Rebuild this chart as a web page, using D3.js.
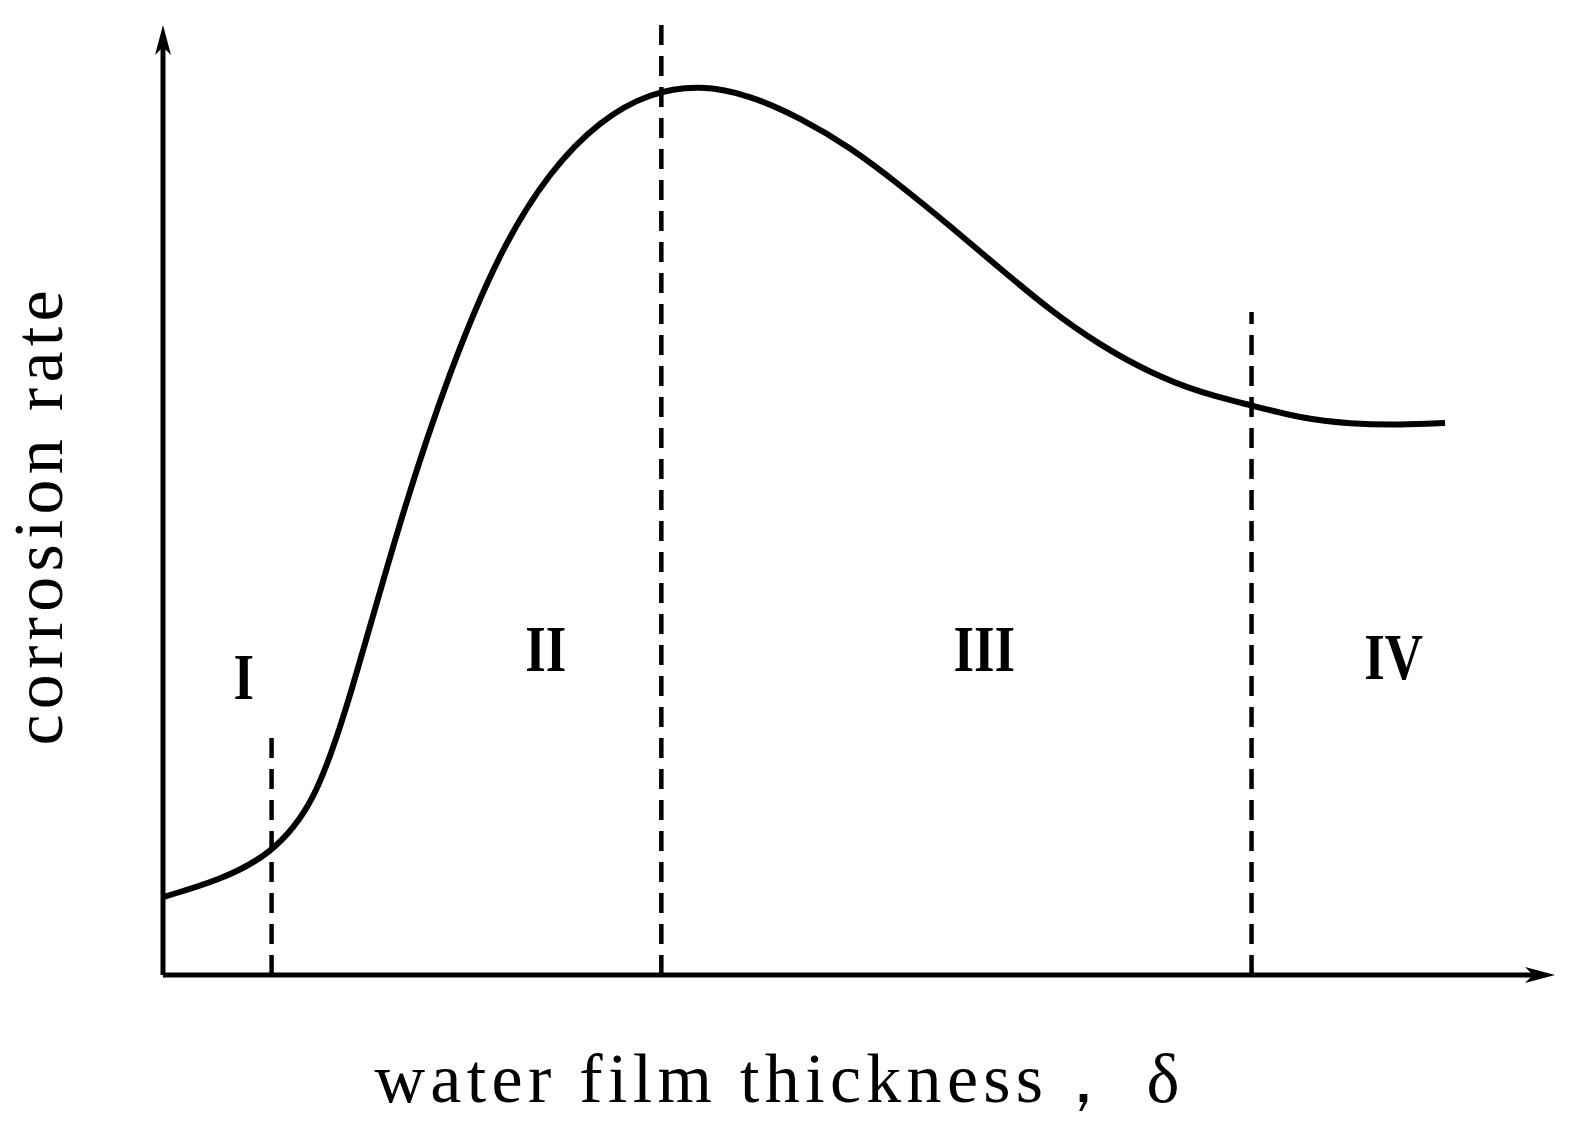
<!DOCTYPE html>
<html><head><meta charset="utf-8">
<script src="https://cdn.jsdelivr.net/npm/d3@7"></script>
<style>body{margin:0;background:#fff}</style></head>
<body><svg id="c" width="1571" height="1123"></svg>
<script>
const curveX = [0,4.1,7.7,10.9,13.4,17.0,20.6,24.2,27.8,31.4,35.0,38.6,42.2,45.8,49.4,52.9,56.5,60.1,63.7,67.3,70.9,74.5,78.1,81.7,85.3,88.9,92.1];
const curveY = [8.2,10.0,12.6,17.9,28.9,47.9,63.7,76.3,84.7,90.0,92.9,93.7,92.6,90.2,87.1,83.2,78.9,74.4,70.0,66.3,63.4,61.3,60.0,58.6,58.0,57.9,58.1];
const dividerX = [7.8,35.8,78.2];
const dividerTop = [25.3,100.5,69.8];
const regionLabels = ["I","II","III","IV"];
const regionX = [5.8,27.5,59.0,88.4];
const regionY = [29,32,32,31.2];

const svg = d3.select("#c");
const x = d3.scaleLinear().domain([0,100]).range([163,1555]);
const y = d3.scaleLinear().domain([0,100]).range([975,25]);
const font = "'Liberation Serif','Times New Roman',serif";

svg.append("line").attr("x1",x(0)).attr("x2",x(98.5)).attr("y1",y(0)).attr("y2",y(0)).attr("stroke","#000").attr("stroke-width",5);
svg.append("line").attr("x1",x(0)).attr("x2",x(0)).attr("y1",y(0)).attr("y2",y(98)).attr("stroke","#000").attr("stroke-width",5);
svg.append("path").attr("d",`M${x(100)},${y(0)} L${x(100)-30},${y(0)-8} L${x(100)-22},${y(0)} L${x(100)-30},${y(0)+8}Z`).attr("fill","#000");
svg.append("path").attr("d",`M${x(0)},${y(100)} L${x(0)-8},${y(100)+30} L${x(0)},${y(100)+22} L${x(0)+8},${y(100)+30}Z`).attr("fill","#000");

dividerX.forEach((d,i)=>{
  svg.append("line").attr("x1",x(d)).attr("x2",x(d)).attr("y1",y(0)).attr("y2",y(dividerTop[i]))
    .attr("stroke","#000").attr("stroke-width",4.5).attr("stroke-dasharray","20,11");
});

const pts = curveX.map((d,i)=>[d,curveY[i]]);
svg.append("path").datum(pts).attr("fill","none").attr("stroke","#000").attr("stroke-width",6)
  .attr("d",d3.line().x(d=>x(d[0])).y(d=>y(d[1])).curve(d3.curveBasis));

regionLabels.forEach((t,i)=>{
  svg.append("text").attr("x",x(regionX[i])).attr("y",y(regionY[i])).attr("text-anchor","middle")
    .attr("font-family",font).attr("font-size",66).attr("font-weight","bold")
    .attr("transform",`translate(${x(regionX[i])},0) scale(0.8,1) translate(${-x(regionX[i])},0)`).text(t);
});

svg.append("text").attr("x",777).attr("y",1102).attr("text-anchor","middle").attr("font-family",font)
  .attr("font-size",70).attr("textLength",805).text("water film thickness，  δ");
svg.append("text").attr("transform","translate(62,518) rotate(-90)").attr("text-anchor","middle").attr("font-family",font)
  .attr("font-size",70).attr("textLength",455).text("corrosion rate");
</script></body></html>
